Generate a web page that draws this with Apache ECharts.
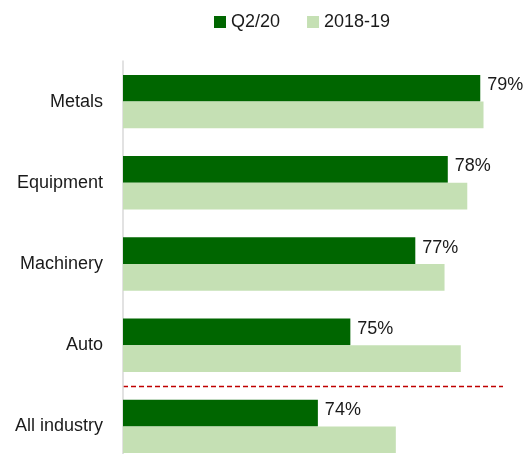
<!DOCTYPE html>
<html>
<head>
<meta charset="utf-8">
<script src="https://cdn.jsdelivr.net/npm/echarts@6/dist/echarts.min.js"></script>
<style>
  html, body { margin: 0; padding: 0; background: #fff; }
  #chart { width: 527px; height: 454px; }
</style>
</head>
<body>
<div id="chart"></div>
<script>
// Capacity utilisation by sector
const categories = ['Metals', 'Equipment', 'Machinery', 'Auto', 'All industry'];
const seriesNames = ['Q2/20', '2018-19'];
const q2_20 = [79, 78, 77, 75, 74];
const avg2018_19 = [79.1, 78.6, 77.9, 78.4, 76.4];

const FONT = 'Liberation Sans, Arial, sans-serif';
// index of the category that the dashed separator sits above
const SEPARATOR_BEFORE = categories.indexOf('All industry');

const chart = echarts.init(document.getElementById('chart'), null, { renderer: 'canvas' });
chart.setOption({
  animation: false,
  backgroundColor: '#ffffff',
  textStyle: { fontFamily: FONT },
  legend: {
    left: 214,
    top: 13,
    padding: 0,
    icon: 'rect',
    itemWidth: 12,
    itemHeight: 12,
    itemGap: 27,
    textStyle: { fontSize: 18, color: '#1a1a1a', fontFamily: FONT },
    data: seriesNames
  },
  grid: {
    left: 123,
    top: 61,
    width: 380,
    height: 406,
    containLabel: false,
    outerBoundsMode: 'none'
  },
  xAxis: {
    type: 'value',
    min: 68,
    max: 79.7,
    show: false
  },
  yAxis: {
    type: 'category',
    inverse: true,
    data: categories,
    axisLine: { show: true, lineStyle: { color: '#d9d9d9', width: 1.5 } },
    axisTick: { show: false },
    axisLabel: { fontSize: 18, color: '#1a1a1a', margin: 20, fontFamily: FONT },
    splitLine: {
      show: true,
      // dashed separator between the sectors and the all-industry total
      interval: function (index) { return index === 0 || index === SEPARATOR_BEFORE; },
      showMinLine: false,
      showMaxLine: false,
      lineStyle: { color: '#c00000', type: [5, 3], width: 1.3 }
    }
  },
  series: [
    {
      name: seriesNames[0],
      type: 'bar',
      data: q2_20,
      barWidth: 26.7,
      barGap: '0%',
      itemStyle: { color: '#006600' },
      label: {
        show: true,
        position: 'right',
        distance: 7,
        offset: [0, -3],
        formatter: '{c}%',
        fontSize: 18,
        color: '#1a1a1a',
        fontFamily: FONT
      }
    },
    {
      name: seriesNames[1],
      type: 'bar',
      data: avg2018_19,
      barWidth: 26.7,
      barGap: '0%',
      itemStyle: { color: '#c5e0b4' }
    }
  ]
});
</script>
</body>
</html>
